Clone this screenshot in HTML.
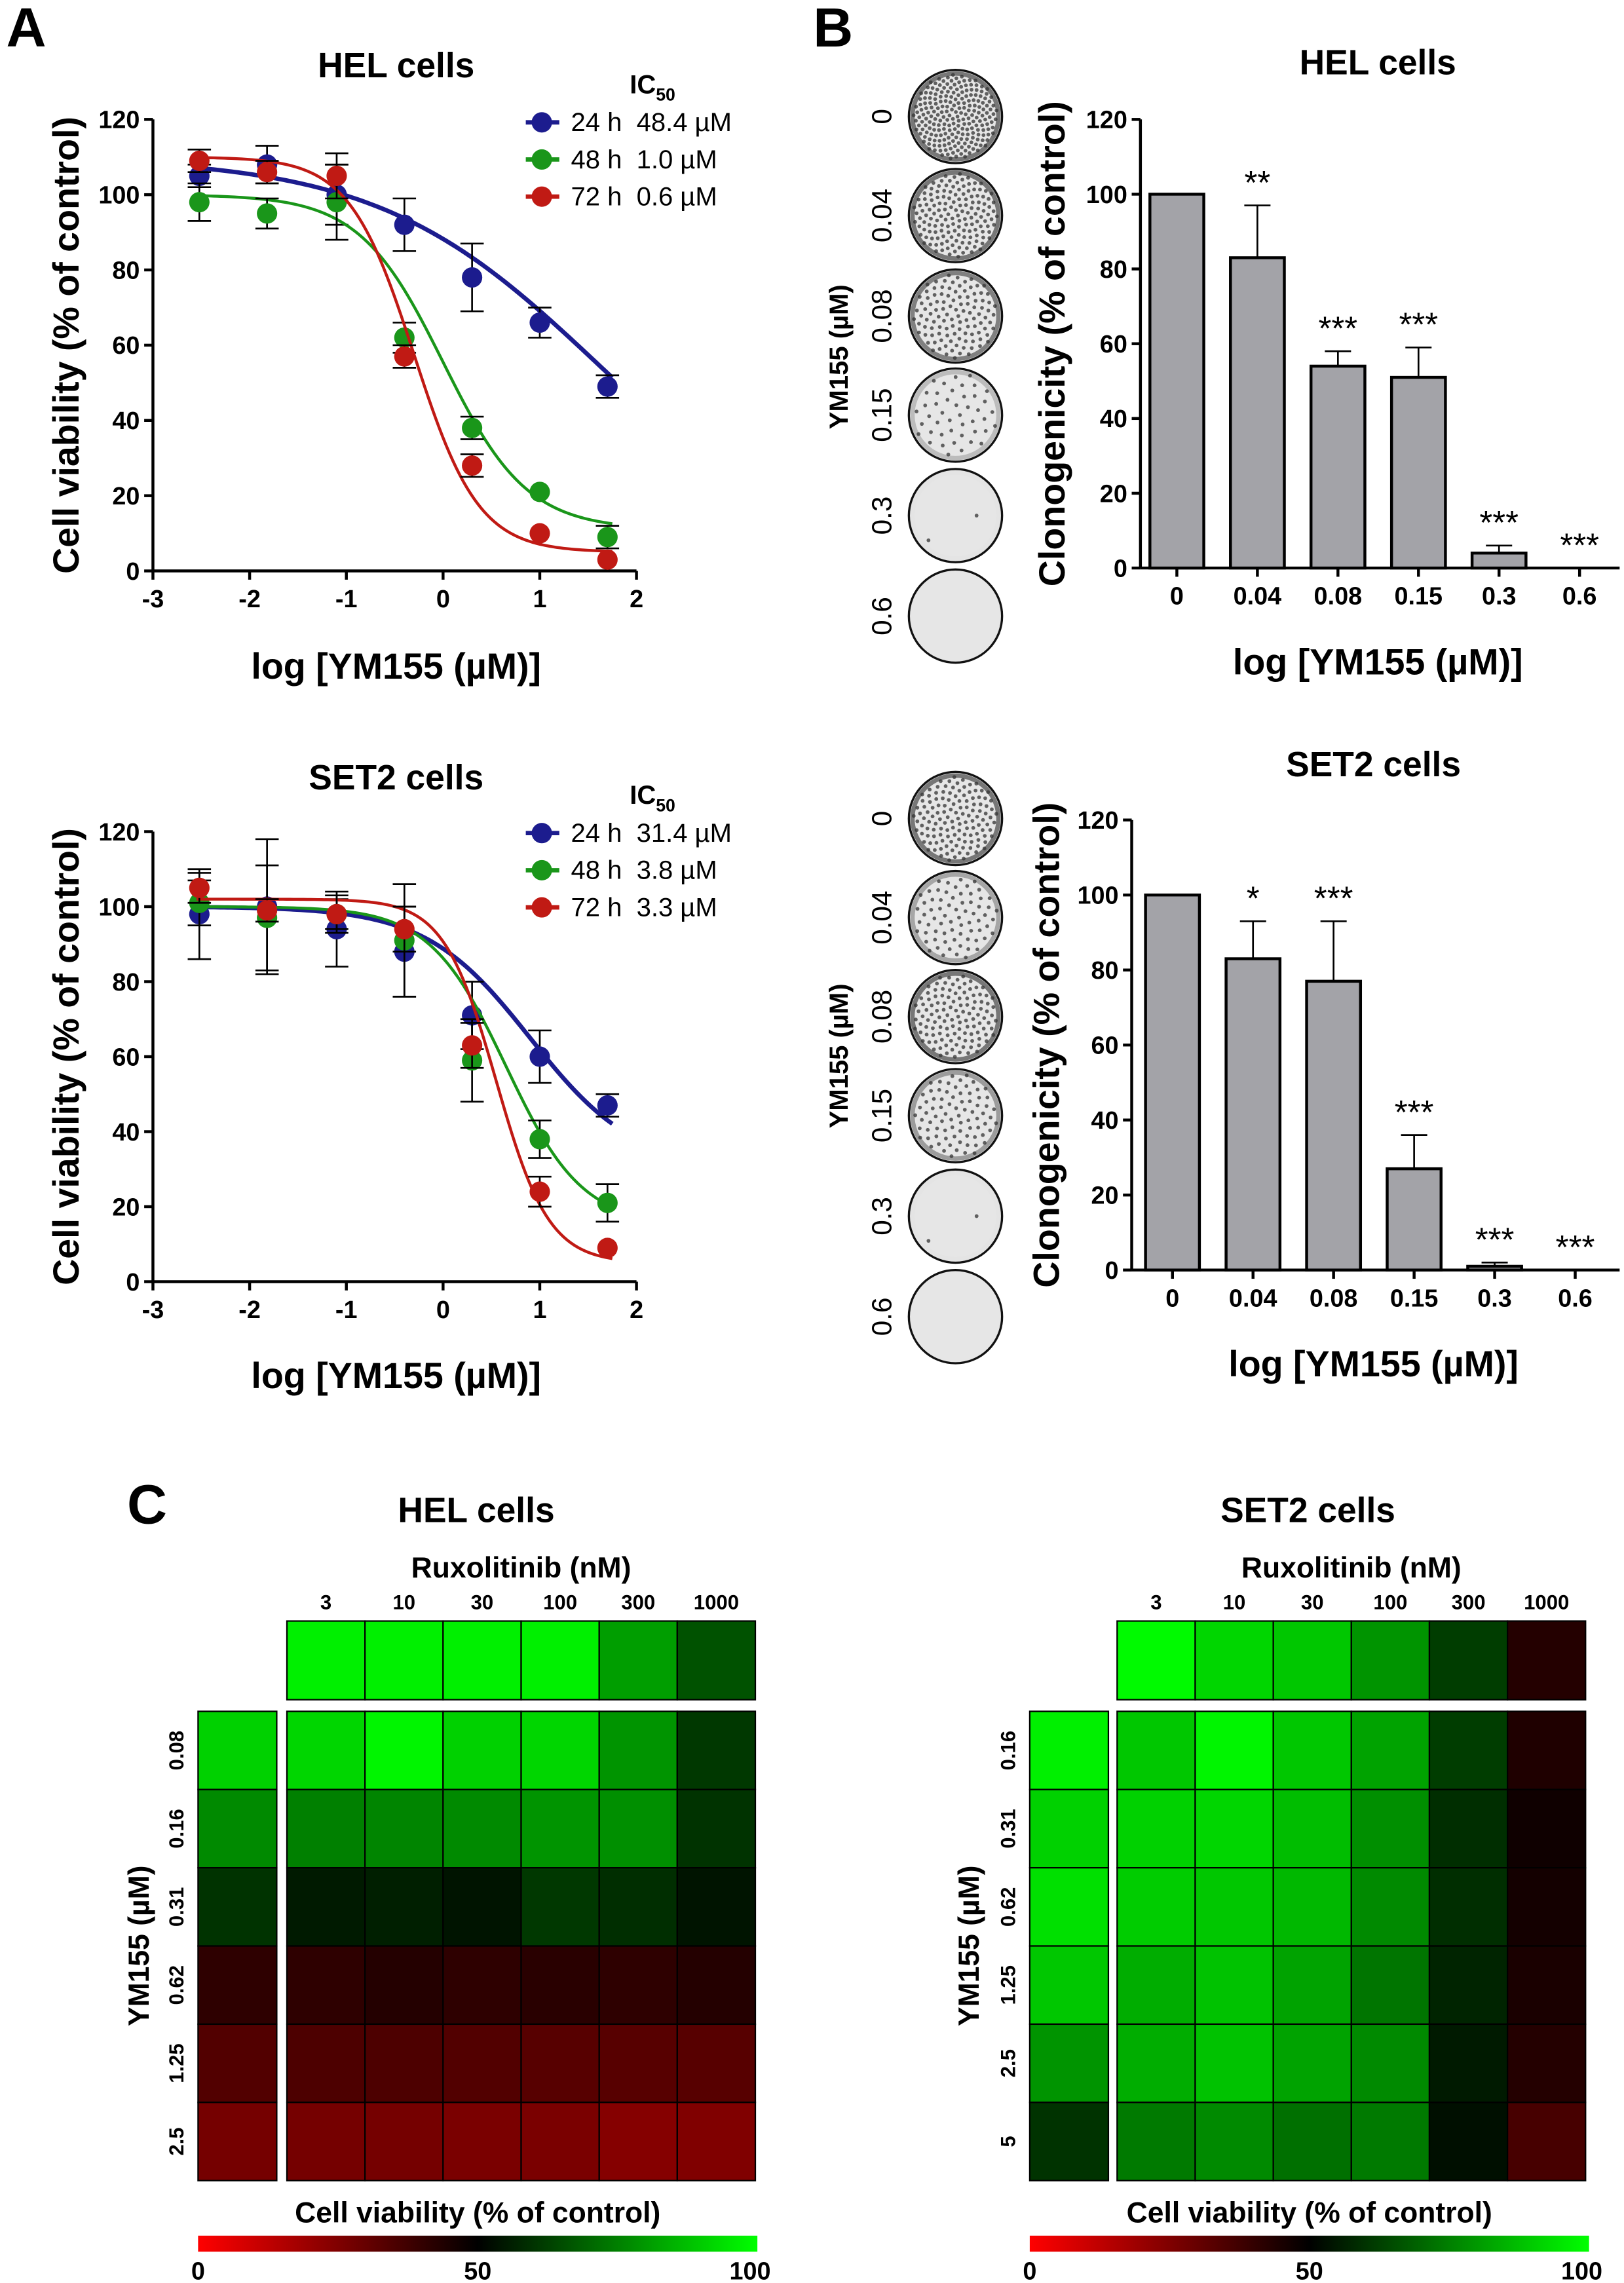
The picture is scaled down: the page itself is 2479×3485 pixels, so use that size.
<!DOCTYPE html>
<html><head><meta charset="utf-8"><style>
html,body{margin:0;padding:0;background:#fff;}
svg{display:block;}
text{font-family:"Liberation Sans Narrow","Liberation Sans",Arial,sans-serif;}
</style></head><body>
<svg id="fig" xmlns="http://www.w3.org/2000/svg" width="2479" height="3485" viewBox="0 0 1115 1567.5" preserveAspectRatio="none">
<g id="root"></g>
</svg>
<script>
// ---------- Panel A data ----------
const doseLog = [-2.52, -1.82, -1.1, -0.4, 0.3, 1.0, 1.7];
const xTicksA = [-3, -2, -1, 0, 1, 2];
const yTicksA = [0, 20, 40, 60, 80, 100, 120];
const seriesNames = ["24 h", "48 h", "72 h"];
const seriesColors = ["#1c1c8e", "#1a961a", "#c01a14"];
const helIC50 = ["48.4 \u00b5M", "1.0 \u00b5M", "0.6 \u00b5M"];
const set2IC50 = ["31.4 \u00b5M", "3.8 \u00b5M", "3.3 \u00b5M"];
const hel24 = [105, 108, 100, 92, 78, 66, 49];
const hel48 = [98, 95, 98, 62, 38, 21, 9];
const hel72 = [109, 106, 105, 57, 28, 10, 3];
const helErr24 = [3, 5, 8, 7, 9, 4, 3];
const helErr48 = [5, 4, 10, 4, 3, 0, 3];
const helErr72 = [3, 3, 6, 3, 3, 0, 0];
const set24 = [98, 100, 94, 88, 71, 60, 47];
const set48 = [101, 97, 98, 91, 59, 38, 21];
const set72 = [105, 99, 98, 94, 63, 24, 9];
const setErr24 = [12, 18, 10, 12, 9, 7, 3];
const setErr48 = [6, 14, 4, 15, 11, 5, 5];
const setErr72 = [4, 3, 5, 6, 6, 4, 0];
// 4PL fit parameters: [top, bottom, logIC, hill]
const helFit = [[110, 0, 1.6, 0.38], [100, 11, 0, 1.0], [110, 5, -0.3, 1.3]];
const setFit = [[100, 30, 0.9, 0.8], [100, 15, 0.65, 1.1], [102, 5, 0.55, 1.6]];

// ---------- Panel B data ----------
const barCats = ["0", "0.04", "0.08", "0.15", "0.3", "0.6"];
const helClono = [100, 83, 54, 51, 4, 0];
const helClonoErr = [0, 14, 4, 8, 2, 0];
const helStars = ["", "**", "***", "***", "***", "***"];
const setClono = [100, 83, 77, 27, 1, 0];
const setClonoErr = [0, 10, 16, 9, 1, 0];
const setStars = ["", "*", "***", "***", "***", "***"];
const yTicksB = [0, 20, 40, 60, 80, 100, 120];

// ---------- Panel C data ----------
const ruxLabels = ["3", "10", "30", "100", "300", "1000"];
const helYM = ["0.08", "0.16", "0.31", "0.62", "1.25", "2.5"];
const setYM = ["0.16", "0.31", "0.62", "1.25", "2.5", "5"];
const helRuxAlone = [97, 97, 97, 97, 81, 66];
const helYMAlone = [91, 77, 60, 41, 34, 27];
const helCombo0 = [92, 98, 91, 92, 79, 61];
const helCombo1 = [75, 76, 77, 79, 78, 60];
const helCombo2 = [55, 56, 54, 61, 59, 54];
const helCombo3 = [41, 43, 41, 42, 41, 43];
const helCombo4 = [35, 35, 34, 33, 33, 33];
const helCombo5 = [27, 27, 26, 26, 24, 25];
const setRuxAlone = [99, 92, 89, 79, 62, 43];
const setYMAlone = [97, 91, 94, 89, 79, 60];
const setCombo0 = [89, 98, 89, 82, 62, 44];
const setCombo1 = [91, 92, 87, 78, 59, 47];
const setCombo2 = [90, 89, 86, 77, 59, 46];
const setCombo3 = [84, 88, 82, 73, 57, 45];
const setCombo4 = [84, 88, 82, 77, 55, 43];
const setCombo5 = [74, 77, 72, 74, 53, 36];
const cbarTicks = [0, 50, 100];

const NS = "http://www.w3.org/2000/svg";
const root = document.getElementById("root");
function el(tag, attrs, parent, txt) {
  const e = document.createElementNS(NS, tag);
  for (const k in attrs) e.setAttribute(k, attrs[k]);
  if (txt !== undefined) e.textContent = txt;
  (parent || root).appendChild(e);
  return e;
}
function grp(name, parent) {
  const g = el("g", {}, parent);
  
  
  return g;
}
function label(parent, name, x, y, txt, size, opts) {
  opts = opts || {};
  const t = el("text", {x: x, y: y, "font-size": size, "text-anchor": opts.anchor || "middle", fill: "#000"}, parent, txt);
  if (opts.bold !== false) t.setAttribute("font-weight", "bold");
  if (opts.rot) t.setAttribute("transform", "rotate(" + opts.rot + " " + x + " " + y + ")");
  
  
  return t;
}

[["A", 18, 32], ["B", 572, 32], ["C", 101, 1046]].forEach(p => {
  label(root, "panel-letter-" + p[0].toLowerCase(), p[1], p[2], p[0], 38, {});
});

// ---------- Dose response ----------
function doseChart(name, cfg) {
  const g = grp(name);
  const x0 = 105, x1 = 437, y0 = cfg.y0, y120 = cfg.y120;
  const xs = v => x0 + (v - (-3)) / 5 * (x1 - x0);
  const ys = v => y0 - v / 120 * (y0 - y120);
  label(g, "chart-title", 272, cfg.titleY, cfg.title, 24);
  const ax = grp("axes", g);
  el("line", {x1: x0, y1: ys(0), x2: x1, y2: ys(0), stroke: "#000", "stroke-width": 2}, ax);
  el("line", {x1: x0, y1: ys(0), x2: x0, y2: ys(120), stroke: "#000", "stroke-width": 2}, ax);
  xTicksA.forEach(t => {
    el("line", {x1: xs(t), y1: ys(0), x2: xs(t), y2: ys(0) + 6, stroke: "#000", "stroke-width": 2}, ax);
    label(ax, "x-tick-label", xs(t), ys(0) + 25, String(t), 17);
  });
  yTicksA.forEach(t => {
    el("line", {x1: x0 - 6, y1: ys(t), x2: x0, y2: ys(t), stroke: "#000", "stroke-width": 2}, ax);
    label(ax, "y-tick-label", x0 - 9, ys(t) + 6, String(t), 17, {anchor: "end"});
  });
  label(g, "y-axis-title", 54, (ys(0) + ys(120)) / 2, "Cell viability (% of control)", 25, {rot: -90});
  label(g, "x-axis-title", 272, cfg.xtY, "log [YM155 (\u00b5M)]", 25);
  cfg.vals.forEach((vals, i) => {
    const sg = grp("series-" + seriesNames[i].replace(" ", ""), g);
    const f = cfg.fits[i];
    let d = "";
    for (let k = 0; k <= 120; k++) {
      const lx = -2.55 + k * (1.75 + 2.55) / 120;
      const v = f[1] + (f[0] - f[1]) / (1 + Math.pow(10, (lx - f[2]) * f[3]));
      d += (k ? "L" : "M") + xs(lx).toFixed(2) + " " + ys(v).toFixed(2);
    }
    el("path", {d: d, fill: "none", stroke: seriesColors[i], "stroke-width": i === 0 ? 3 : 2}, sg);
    vals.forEach((v, j) => {
      const e = cfg.errs[i][j];
      const cx = xs(doseLog[j]);
      if (e > 0) {
        el("line", {x1: cx, y1: ys(v - e), x2: cx, y2: ys(v + e), stroke: "#000", "stroke-width": 1.2}, sg);
        el("line", {x1: cx - 8, y1: ys(v - e), x2: cx + 8, y2: ys(v - e), stroke: "#000", "stroke-width": 1.2}, sg);
        el("line", {x1: cx - 8, y1: ys(v + e), x2: cx + 8, y2: ys(v + e), stroke: "#000", "stroke-width": 1.2}, sg);
      }
      const c = el("circle", {cx: cx, cy: ys(v), r: 7, fill: seriesColors[i]}, sg);
      
      
    });
  });
  const lg = grp("legend", g);
  const ic = label(lg, "legend-title", 448, cfg.legY - 20, "IC", 18);
  el("tspan", {"font-size": 12, dy: 5}, ic, "50");
  seriesNames.forEach((s, i) => {
    const ly = cfg.legY + i * 25.5;
    const eg = grp("legend-entry", lg);
    el("line", {x1: 361, y1: ly, x2: 384, y2: ly, stroke: seriesColors[i], "stroke-width": 3}, eg);
    el("circle", {cx: 372, cy: ly, r: 7, fill: seriesColors[i]}, eg);
    label(eg, "legend-label", 392, ly + 6, s, 18, {anchor: "start", bold: false});
    label(eg, "legend-ic50", 437, ly + 6, cfg.ic[i], 18, {anchor: "start", bold: false});
  });
}
doseChart("hel-dose-response-chart", {title: "HEL cells", titleY: 53, y0: 392, y120: 82, xtY: 466,
  vals: [hel24, hel48, hel72], errs: [helErr24, helErr48, helErr72], fits: helFit, ic: helIC50, legY: 84});
doseChart("set2-dose-response-chart", {title: "SET2 cells", titleY: 542, y0: 880, y120: 571, xtY: 953,
  vals: [set24, set48, set72], errs: [setErr24, setErr48, setErr72], fits: setFit, ic: set2IC50, legY: 572});

// ---------- Colony plates ----------
function plates(name, ys, spots, labX, titleY) {
  const g = grp(name);
  label(g, "ym155-axis-title", 582, titleY, "YM155 (\u00b5M)", 18, {rot: -90});
  ys.forEach((y, i) => {
    const c = el("circle", {cx: 656, cy: y, r: 32, fill: "#e6e6e6", stroke: "#111", "stroke-width": 1.5}, g);
    
    
    if (spots[i] > 0) el("circle", {cx: 656, cy: y, r: 29.5, fill: "none", stroke: "#777", "stroke-width": 3, opacity: Math.min(1, spots[i] / 120)}, g);
    const n = spots[i];
    for (let k = 0; k < n; k++) {
      const a = k * 2.39996, r = 29 * Math.sqrt((k + 0.5) / n);
      el("circle", {cx: 656 + r * Math.cos(a), cy: y + r * Math.sin(a), r: 1.3, fill: "#333", opacity: 0.75}, g);
    }
    label(g, "plate-dose-label", labX, y, barCats[i], 19, {rot: -90, bold: false});
  });
}
plates("hel-colony-plates", [80, 148, 217, 285, 354, 423], [220, 150, 110, 45, 2, 0], 612, 245);
plates("set2-colony-plates", [562, 630, 698, 766, 835, 904], [130, 70, 120, 80, 2, 0], 612, 725);

// ---------- Bar charts ----------
function barChart(name, cfg) {
  const g = grp(name);
  const ys = v => cfg.y0 - v / 120 * (cfg.y0 - cfg.y120);
  label(g, "chart-title", cfg.titleX, cfg.titleY, cfg.title, 24);
  const ax = grp("axes", g);
  el("line", {x1: cfg.x0, y1: cfg.y0, x2: 1112, y2: cfg.y0, stroke: "#000", "stroke-width": 2}, ax);
  el("line", {x1: cfg.x0, y1: cfg.y0, x2: cfg.x0, y2: cfg.y120, stroke: "#000", "stroke-width": 2}, ax);
  yTicksB.forEach(t => {
    el("line", {x1: cfg.x0 - 6, y1: ys(t), x2: cfg.x0, y2: ys(t), stroke: "#000", "stroke-width": 2}, ax);
    label(ax, "y-tick-label", cfg.x0 - 9, ys(t) + 6, String(t), 17, {anchor: "end"});
  });
  const step = 55.3, bw = 37;
  cfg.vals.forEach((v, i) => {
    const cx = cfg.c0 + i * step;
    el("line", {x1: cx, y1: cfg.y0, x2: cx, y2: cfg.y0 + 6, stroke: "#000", "stroke-width": 2}, ax);
    label(ax, "x-tick-label", cx, cfg.y0 + 25, barCats[i], 17);
    const e = cfg.errs[i];
    if (e > 0) {
      el("line", {x1: cx, y1: ys(v), x2: cx, y2: ys(v + e), stroke: "#000", "stroke-width": 1.2}, g);
      el("line", {x1: cx - 9, y1: ys(v + e), x2: cx + 9, y2: ys(v + e), stroke: "#000", "stroke-width": 1.2}, g);
    }
    if (v > 0) {
      const r = el("rect", {x: cx - bw / 2, y: ys(v), width: bw, height: ys(0) - ys(v), fill: "#a3a3a8", stroke: "#000", "stroke-width": 2}, g);
      
      
    }
    if (cfg.stars[i]) label(g, "significance-stars", cx, ys(v + e) - 8, cfg.stars[i], 23, {bold: false});
  });
  label(g, "y-axis-title", cfg.ytX, (cfg.y0 + cfg.y120) / 2, "Clonogenicity (% of control)", 25, {rot: -90});
  label(g, "x-axis-title", cfg.titleX, cfg.xtY, "log [YM155 (\u00b5M)]", 25);
}
barChart("hel-clonogenicity-chart", {title: "HEL cells", titleX: 946, titleY: 51, x0: 783, y0: 390, y120: 82, c0: 808,
  vals: helClono, errs: helClonoErr, stars: helStars, ytX: 731, xtY: 463});
barChart("set2-clonogenicity-chart", {title: "SET2 cells", titleX: 943, titleY: 533, x0: 777, y0: 872, y120: 563, c0: 805,
  vals: setClono, errs: setClonoErr, stars: setStars, ytX: 727, xtY: 945});

// ---------- Heatmaps ----------
function vcolor(v) {
  if (v >= 50) return "rgb(0," + Math.round((v - 50) / 50 * 255) + ",0)";
  return "rgb(" + Math.round((50 - v) / 50 * 255) + ",0,0)";
}
function heatmap(name, cfg) {
  const g = grp(name);
  const cw = 53.6, ch = 53.7, mx = cfg.mx, lx = cfg.lx;
  label(g, "heatmap-title", cfg.titleX, 1045, cfg.title, 24);
  label(g, "ruxolitinib-axis-title", mx + 3 * cw, 1083, "Ruxolitinib (nM)", 20);
  cfg.rux.forEach((v, j) => {
    label(g, "ruxolitinib-dose-label", mx + (j + 0.5) * cw, 1105, ruxLabels[j], 14);
    const r = el("rect", {x: mx + j * cw, y: 1113, width: cw, height: 54, fill: vcolor(v), stroke: "#000", "stroke-width": 1}, g);
    
    
  });
  label(g, "ym155-axis-title", cfg.ytX, 1336, "YM155 (\u00b5M)", 20, {rot: -90});
  cfg.ym.forEach((v, i) => {
    const y = 1175 + i * ch;
    label(g, "ym155-dose-label", cfg.rlX, y + ch / 2, cfg.ymLabels[i], 14, {rot: -90});
    const r = el("rect", {x: lx, y: y, width: 54, height: ch, fill: vcolor(v), stroke: "#000", "stroke-width": 1}, g);
    
    
    cfg.combo[i].forEach((cv, j) => {
      const c = el("rect", {x: mx + j * cw, y: y, width: cw, height: ch, fill: vcolor(cv), stroke: "#000", "stroke-width": 1}, g);
      
      
    });
  });
  label(g, "colorbar-title", cfg.cbX0 + 192, 1526, "Cell viability (% of control)", 20);
  const id = name + "-grad";
  const defs = el("defs", {}, g);
  const lg = el("linearGradient", {id: id, x1: 0, x2: 1, y1: 0, y2: 0}, defs);
  el("stop", {offset: 0, "stop-color": "#ff0000"}, lg);
  el("stop", {offset: 0.5, "stop-color": "#000000"}, lg);
  el("stop", {offset: 1, "stop-color": "#00ff00"}, lg);
  const cb = el("rect", {x: cfg.cbX0, y: 1535, width: 384, height: 11, fill: "url(#" + id + ")"}, g);
  
  
  cbarTicks.forEach(t => label(g, "colorbar-tick-label", cfg.cbX0 + (t / 100) * 384 - (t === 100 ? 5 : 0), 1565, String(t), 17));
}
heatmap("hel-heatmap", {title: "HEL cells", titleX: 327, mx: 197, lx: 136, rux: helRuxAlone, ym: helYMAlone, ymLabels: helYM,
  combo: [helCombo0, helCombo1, helCombo2, helCombo3, helCombo4, helCombo5], ytX: 102, rlX: 126, cbX0: 136});
heatmap("set2-heatmap", {title: "SET2 cells", titleX: 898, mx: 767, lx: 707, rux: setRuxAlone, ym: setYMAlone, ymLabels: setYM,
  combo: [setCombo0, setCombo1, setCombo2, setCombo3, setCombo4, setCombo5], ytX: 672, rlX: 697, cbX0: 707});
</script>
</body></html>
